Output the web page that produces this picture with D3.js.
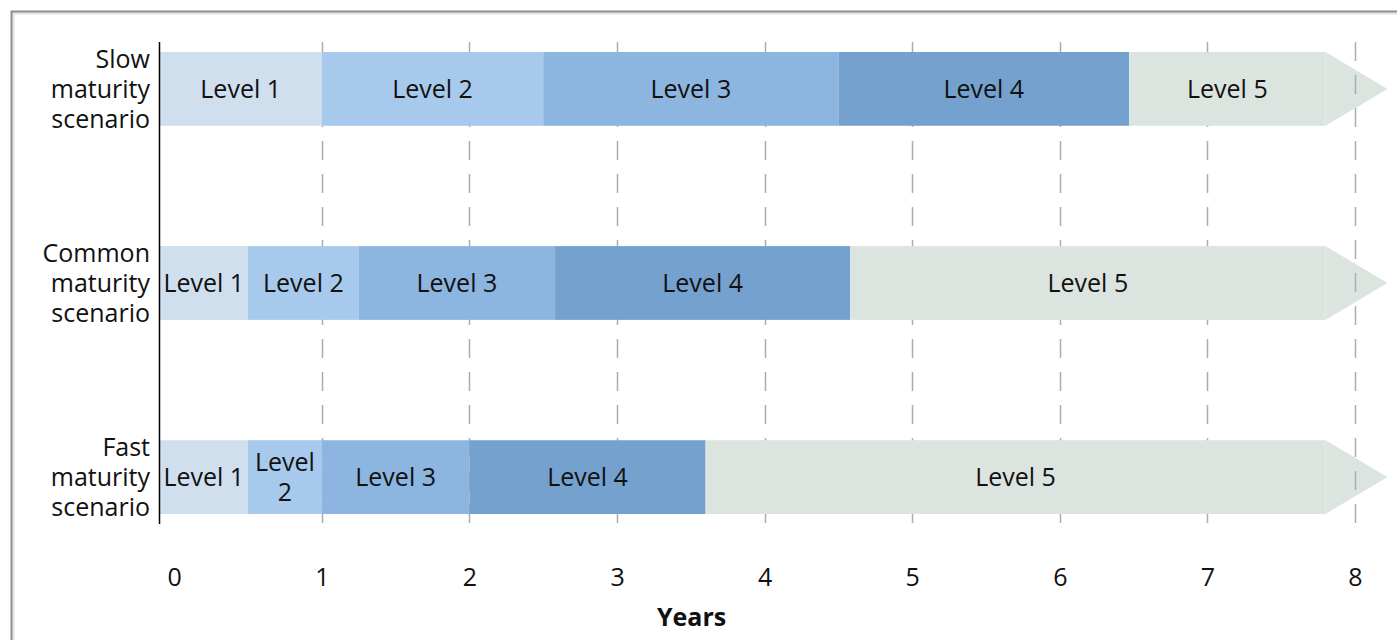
<!DOCTYPE html>
<html>
<head>
<meta charset="utf-8">
<script src="https://cdn.jsdelivr.net/npm/d3@7"></script>
<style>
  html, body { margin: 0; padding: 0; background: #fff; }
  svg { display: block; font-family: "Open Sans", "DejaVu Sans", sans-serif; }
</style>
</head>
<body>
<svg id="chart" width="1397" height="640"></svg>
<script>
// Scenarios, top to bottom, with the label lines drawn at the left
const scenarios = ["slow", "common", "fast"];
const scenarioLabels = [
  ["Slow", "maturity", "scenario"],
  ["Common", "maturity", "scenario"],
  ["Fast", "maturity", "scenario"]
];

// Maturity levels and their fills
const levels = ["Level 1", "Level 2", "Level 3", "Level 4", "Level 5"];
const levelColors = ["#cfdfee", "#a7c9eb", "#8cb5df", "#74a1ce", "#dce4df"];

// Year at which each level ends (Level 5 runs on into the arrow)
const slowEnds   = [1.0, 2.5, 4.5, 6.47, 7.8];
const commonEnds = [0.5, 1.25, 2.58, 4.58, 7.8];
const fastEnds   = [0.5, 1.0, 2.0, 3.6, 7.8];
const levelEnds = [slowEnds, commonEnds, fastEnds];

// Timeline start (the axis line) and the tip of the open-ended arrow
const timelineStart = -0.1;
const arrowTip = 8.22;

// Axis ticks
const yearTicks = [0, 1, 2, 3, 4, 5, 6, 7, 8];
const gridYears = [1, 2, 3, 4, 5, 6, 7, 8];
const axisTitle = "Years";

const svg = d3.select("#chart");

const x = d3.scaleLinear().domain([timelineStart, 8]).range([159.5, 1355]);
const y = d3.scaleBand().domain(scenarios).range([52, 514]).paddingInner(0.62);

const plotTop = 42, plotBottom = 524;
const fontSize = 25;
const lineHeight = 30;

// Frame around the figure
const frame = svg.append("g");
frame.append("path")
  .attr("d", "M13.5,640 V13.5 H1397")
  .attr("fill", "none").attr("stroke", "#e2e2e2").attr("stroke-width", 2);
frame.append("path")
  .attr("d", "M11.5,640 V11.5 H1397")
  .attr("fill", "none").attr("stroke", "#8c8c8c").attr("stroke-width", 2);

// Rows of segments
const rows = scenarios.map((s, i) => {
  const ends = levelEnds[i];
  return {
    scenario: s,
    segments: ends.map((e, j) => ({
      level: levels[j],
      color: levelColors[j],
      start: j === 0 ? timelineStart : ends[j - 1],
      end: e
    }))
  };
});

// Arrow heads of the last level (sit under the gridlines)
svg.append("g").selectAll("path")
  .data(rows)
  .join("path")
  .attr("d", r => {
    const last = r.segments[r.segments.length - 1];
    const y0 = y(r.scenario), y1 = y0 + y.bandwidth();
    return `M${x(last.end)},${y0} L${x(arrowTip)},${(y0 + y1) / 2} L${x(last.end)},${y1} Z`;
  })
  .attr("fill", levelColors[4]);

// Dashed vertical gridlines
svg.append("g").selectAll("line")
  .data(gridYears)
  .join("line")
  .attr("x1", d => Math.round(x(d)) + 0.5).attr("x2", d => Math.round(x(d)) + 0.5)
  .attr("y1", plotTop).attr("y2", plotBottom)
  .attr("stroke", "#a9adb2").attr("stroke-width", 1.5)
  .attr("stroke-dasharray", "19,14");

// Segment bars
const rowG = svg.append("g").selectAll("g")
  .data(rows)
  .join("g")
  .attr("transform", r => `translate(0,${y(r.scenario)})`);

rowG.selectAll("rect")
  .data(r => r.segments)
  .join("rect")
  .attr("x", d => x(d.start))
  .attr("y", 0)
  .attr("width", d => x(d.end) - x(d.start))
  .attr("height", y.bandwidth())
  .attr("fill", d => d.color);

// Segment labels, wrapped onto two lines where the segment is narrow
rowG.selectAll("text")
  .data(r => r.segments)
  .join("text")
  .attr("text-anchor", "middle")
  .attr("font-size", fontSize)
  .attr("fill", "#111")
  .each(function (d) {
    const t = d3.select(this);
    const cx = (x(d.start) + x(d.end)) / 2;
    const w = x(d.end) - x(d.start);
    const cy = y.bandwidth() / 2;
    const words = w < 84 ? d.level.split(" ") : [d.level];
    words.forEach((wd, k) => {
      t.append("tspan")
        .attr("x", cx)
        .attr("y", cy + (k - (words.length - 1) / 2) * lineHeight)
        .attr("dy", "0.35em")
        .text(wd);
    });
  });

// Axis line
svg.append("line")
  .attr("x1", x(timelineStart)).attr("x2", x(timelineStart))
  .attr("y1", plotTop).attr("y2", plotBottom)
  .attr("stroke", "#000").attr("stroke-width", 1.5);

// Scenario labels
svg.append("g").selectAll("text")
  .data(scenarios)
  .join("text")
  .attr("text-anchor", "end")
  .attr("font-size", fontSize)
  .attr("fill", "#111")
  .each(function (s, i) {
    const t = d3.select(this);
    const lines = scenarioLabels[i];
    const cy = y(s) + y.bandwidth() / 2;
    lines.forEach((ln, k) => {
      t.append("tspan")
        .attr("x", 150)
        .attr("y", cy + (k - (lines.length - 1) / 2) * lineHeight)
        .attr("dy", "0.35em")
        .text(ln);
    });
  });

// Year axis
const axis = svg.append("g")
  .attr("transform", "translate(0,568)")
  .call(d3.axisBottom(x).tickValues(yearTicks).tickSize(0).tickPadding(0).tickFormat(d3.format("d")));
axis.select(".domain").remove();
axis.selectAll("text")
  .attr("font-size", fontSize)
  .attr("font-family", "\"Open Sans\", sans-serif")
  .attr("fill", "#111")
  .attr("dy", "0.71em");

svg.append("text")
  .attr("x", (x(0) + x(8)) / 2 - 73)
  .attr("y", 626)
  .attr("text-anchor", "middle")
  .attr("font-size", fontSize)
  .attr("font-weight", "bold")
  .attr("fill", "#111")
  .text(axisTitle);
</script>
</body>
</html>
